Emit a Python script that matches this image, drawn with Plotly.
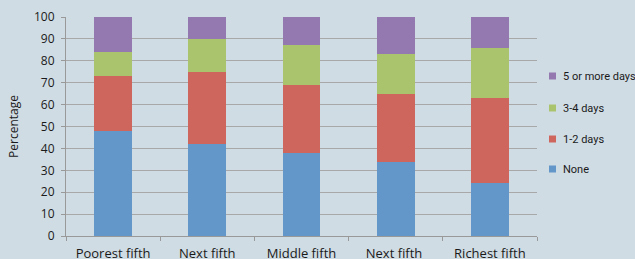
import plotly.graph_objects as go

categories = ["Poorest fifth", "Next fifth", "Middle fifth", "Next fifth ", "Richest fifth"]
none_vals = [48, 42, 38, 34, 24]
days_1_2 = [25, 33, 31, 31, 39]
days_3_4 = [11, 15, 18, 18, 23]
days_5_plus = [16, 10, 13, 17, 14]

series = [
    ("None", none_vals, "#6397C9"),
    ("1-2 days", days_1_2, "#CF665E"),
    ("3-4 days", days_3_4, "#AAC46E"),
    ("5 or more days", days_5_plus, "#9479B0"),
]

W, H = 635, 259
L, R, T, B = 66, 98, 17, 23
PW, PH = W - L - R, H - T - B


def px_x(x):
    return (x - L) / PW


def px_y(y):
    return (H - B - y) / PH


fig = go.Figure()
for name, vals, color in series:
    fig.add_trace(go.Bar(
        x=categories, y=vals, name=name, marker_color=color,
        marker_line_width=0, showlegend=False,
    ))

# Manual legend (small square swatches), top to bottom as in the reference
legend_rows = [76, 108, 139, 169]
for row_y, (name, _vals, color) in zip(legend_rows, list(reversed(series))):
    fig.add_shape(
        type="rect", xref="paper", yref="paper",
        x0=px_x(549), x1=px_x(556), y0=px_y(row_y + 3.5), y1=px_y(row_y - 3.5),
        fillcolor=color, line=dict(width=0),
    )
    fig.add_annotation(
        xref="paper", yref="paper", x=px_x(561), y=px_y(row_y),
        xanchor="left", yanchor="middle", showarrow=False,
        text=name, font=dict(size=11, family="Roboto, Open Sans, sans-serif", color="#1a1a1a"),
    )

font_family = "Open Sans, Noto Sans, sans-serif"
fig.update_layout(
    barmode="stack",
    bargap=0.6,
    width=W, height=H,
    margin=dict(l=L, r=R, t=T, b=B),
    paper_bgcolor="#D0DCE4",
    plot_bgcolor="#D0DCE4",
    font=dict(family=font_family, size=12, color="#1a1a1a"),
    showlegend=False,
    hovermode=False,
    xaxis=dict(
        automargin=False,
        showline=True, linecolor="#999999", linewidth=1,
        ticks="outside", tickson="boundaries", ticklen=4, tickcolor="#999999",
        showgrid=False, tickfont=dict(size=13), ticklabelstandoff=5,
    ),
    yaxis=dict(
        automargin=False,
        range=[0, 100], dtick=10, showline=True, linecolor="#999999", linewidth=1,
        ticks="outside", ticklen=4, tickcolor="#999999",
        showgrid=True, gridcolor="#A8A8A8", gridwidth=1,
        zeroline=False, tickfont=dict(size=12), ticklabelstandoff=4,
        title=dict(text="Percentage", font=dict(size=12), standoff=12),
    ),
)

fig.write_html(
    "out.html",
    config={"displayModeBar": False},
    post_script="document.body.style.margin='0';document.body.style.background='#D0DCE4';",
)
